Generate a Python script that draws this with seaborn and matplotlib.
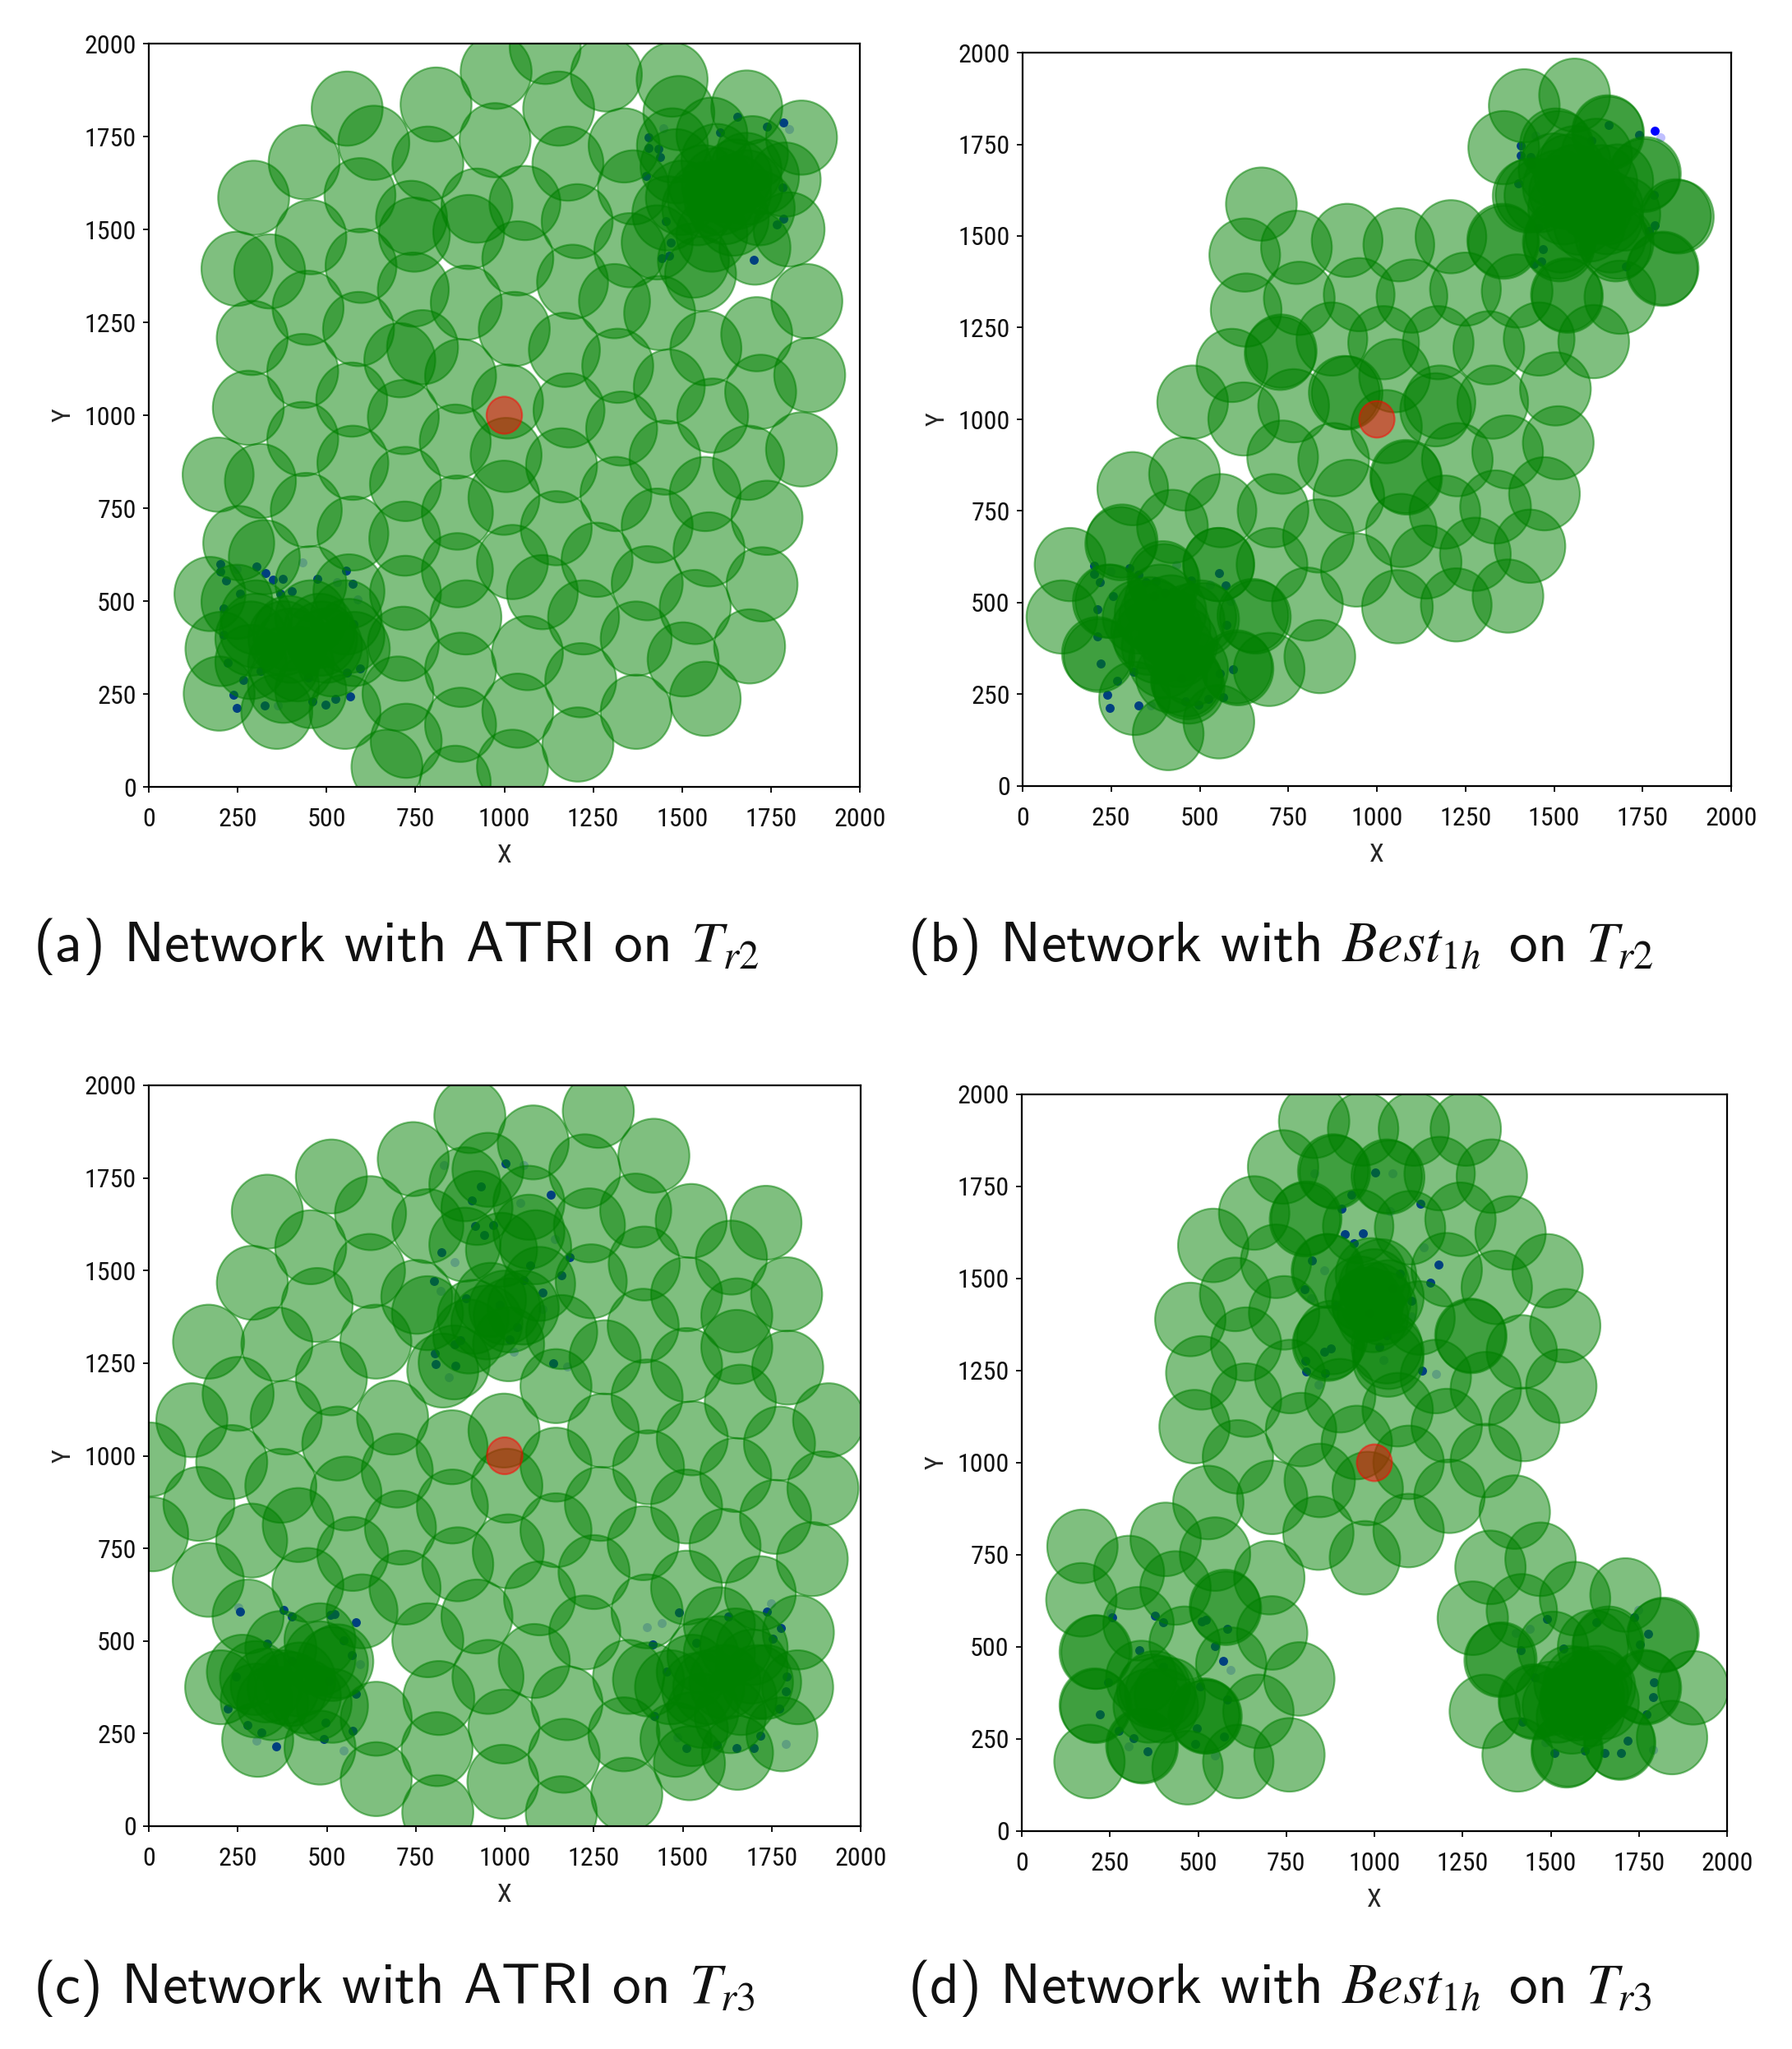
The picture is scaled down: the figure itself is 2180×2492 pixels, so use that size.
import matplotlib
matplotlib.use("Agg")
import matplotlib.pyplot as plt
from matplotlib import font_manager as fm
from matplotlib.patches import Circle
import pandas as pd
import seaborn as sns

# --- Coverage-circle centres (x, y) ----------------------------------------
atri_tr2 = [
 (558,1825),(633,1733),(808,1836),(785,1677),(977,1924),(974,1740),(1115,1991),(1153,1825),(1287,1917),(1472,1903),
 (437,1681),(594,1592),(295,1585),(456,1479),(248,1394),(340,1387),(597,1402),(739,1531),(747,1486),(923,1564),
 (1058,1571),(1179,1677),(1205,1522),(1038,1422),(900,1493),(1363,1613),(1353,1444),(1192,1359),(744,1338),(448,1289),
 (893,1303),(590,1232),(291,1208),(1028,1232),(1310,1307),(1437,1275),(1567,1180),(1532,1416),(1710,1218),(1851,1307),
 (1859,1108),(1836,908),(706,1148),(770,1183),(1169,1176),(1319,1133),(433,1119),(571,1042),(280,1020),(877,1105),
 (1009,1037),(1182,1013),(1464,1077),(1586,999),(1721,1063),(1330,964),(716,995),(433,936),(195,840),(314,823),
 (574,872),(862,929),(1005,893),(1161,865),(1452,886),(1687,872),(1565,788),(722,815),(443,745),(574,682),
 (868,738),(1314,788),(1430,703),(1739,724),(253,656),(325,618),(720,668),(1146,696),(1023,605),(868,583),
 (1261,611),(1576,639),(1402,548),(172,519),(248,498),(563,526),(456,548),(1725,545),(1537,484),(1107,524),
 (716,385),(892,456),(1223,456),(1371,399),(203,371),(578,371),(287,399),(302,456),(394,414),(486,399),
 (456,456),(517,343),(287,336),(379,329),(563,406),(555,456),(1065,360),(877,315),(1690,378),(1503,343),
 (198,251),(360,202),(456,258),(379,272),(552,202),(701,251),(1038,205),(877,167),(1215,287),(1371,202),
 (1565,237),(724,124),(670,54),(862,11),(1023,54),(1207,114),
 (1682,1828),(1491,1813),(1473,1726),(1584,1755),(1836,1747),(1790,1634),(1801,1500),(1460,1543),(1430,1465),(1584,1486),
 (1705,1451),(1717,1557),(1652,1642),(1560,1627),(1498,1585),(1483,1670),(1698,1705),(1606,1585),(1683,1613),(1598,1684),
 (1544,1557),(1644,1529),(1729,1642),(1552,1380),
 (999,778),(722,522),(1337,1726),
 (400,380),(300,420),(500,380),(420,330),(480,420),(380,400),
 (1600,1620),(1560,1580),(1650,1600),(1620,1560),(1680,1660),
]
best_tr2 = [
 (674,1587),(627,1448),(773,1469),(916,1488),(1062,1476),(1209,1498),(631,1298),(781,1330),(950,1340),(1099,1336),
 (1250,1355),(1396,1350),(591,1147),(730,1186),(727,1180),(873,1219),(1019,1209),(1173,1209),(1316,1195),(1458,1219),
 (1612,1212),(1504,1083),(480,1047),(624,1001),(765,1037),(908,1073),(916,1072),(1050,1119),(1178,1047),(1166,1026),
 (1327,1047),(1027,980),(878,890),(734,897),(1081,844),(1084,840),(1227,890),(1369,911),(1512,936),(921,790),
 (1069,697),(1192,747),(1335,761),(1473,797),(707,751),(835,682),(457,851),(311,811),(423,708),(560,751),
 (281,668),(277,661),(134,604),(704,604),(554,604),(553,604),(942,589),(1139,611),(1278,632),(1432,654),
 (804,496),(1058,489),(1224,494),(1370,518),(111,461),(657,461),(650,465),(249,504),(242,504),(839,353),
 (696,318),(604,325),(608,320),(211,361),(216,356),(316,239),(411,143),(554,175),(465,282),(462,289),
 (396,568),(400,560),(373,461),(403,432),(357,403),(503,461),(511,454),(450,389),(388,504),(326,461),(419,475),
 (1416,1855),(1558,1884),(1358,1741),(1504,1748),(1512,1741),(1651,1784),(1654,1780),(1758,1670),(1754,1665),(1435,1612),
 (1427,1609),(1843,1555),(1851,1552),(1808,1412),(1805,1409),(1355,1488),(1358,1483),(1512,1483),(1515,1476),(1674,1476),
 (1681,1483),(1535,1340),(1538,1336),(1686,1333),(1558,1648),(1574,1619),(1604,1591),(1635,1648),(1543,1677),(1512,1634),
 (1620,1720),(1574,1548),(1527,1577),(1651,1577),
 (400,340),(440,370),(480,320),(470,270),(350,420),(430,430),(380,380),(360,470),(470,450),(420,300),
 (1600,1620),(1620,1580),(1560,1700),(1680,1650),(1530,1620),(1600,1530),(1650,1550),(1500,1680),(1700,1560),(1460,1610),(1520,1500),(1660,1500),
]
atri_tr3 = [
 (902,1917),(1080,1846),(1263,1931),(1419,1810),(743,1801),(953,1772),(1225,1768),(888,1733),(1068,1683),(922,1669),
 (513,1754),(623,1655),(333,1659),(455,1563),(291,1467),(620,1499),(784,1620),(1368,1662),(1524,1634),(1734,1629),
 (1637,1535),(1792,1436),(1243,1471),(991,1556),(888,1570),(1087,1563),(1068,1605),(473,1407),(168,1308),(360,1301),
 (638,1308),(753,1429),(783,1385),(960,1421),(911,1375),(1013,1379),(1098,1464),(1052,1400),(899,1322),(1011,1301),
 (1511,1436),(1652,1379),(1652,1294),(1389,1351),(1282,1266),(1511,1245),(1795,1238),(826,1230),(858,1252),(1144,1188),
 (513,1209),(251,1167),(1400,1160),(1662,1146),(1910,1096),(121,1096),(998,1068),(386,1103),(685,1103),(1277,1068),
 (1527,1047),(531,1033),(1772,1033),(233,983),(1144,976),(852,1023),(3,990),(1404,969),(1649,948),(1894,912),
 (371,919),(554,898),(141,870),(853,863),(1269,870),(707,806),(1006,919),(1511,863),(1761,835),(11,788),
 (420,813),(1144,799),(1389,764),(1619,757),(289,771),(573,735),(868,707),(167,665),(1251,686),(1864,721),
 (720,644),(447,651),(1511,644),(1098,615),(599,580),(1718,629),(1400,580),(922,566),(279,566),(784,502),
 (1225,523),(1825,523),(481,502),(1083,446),(639,290),(953,403),(1348,403),(815,346),(1175,332),(1823,375),
 (202,375),(998,269),(1335,248),(810,208),(639,127),(306,233),(481,212),(995,120),(812,38),(1159,35),
 (1343,85),(1519,170),(1779,248),(1654,198),
 (263,417),(302,339),(371,481),(481,453),(516,438),(378,375),(470,332),(516,325),(348,332),(424,396),(531,445),
 (1404,396),(1481,233),(1466,375),(1557,460),(1542,368),(1603,467),(1619,389),(1649,488),(1695,431),(1710,389),
 (1557,311),(1634,297),(1733,389),(1527,262),(1603,545),(1695,481),(1573,375),(1664,346),(1527,417),
 (1010,742),(698,960),(1392,1519),(1238,1622),(1160,1334),(1167,190),
 (330,380),(400,370),(440,350),(300,400),(1000,1400),(950,1360),
]
best_tr3 = [
 (829,1927),(968,1906),(1112,1906),(1259,1906),(741,1803),(883,1792),(888,1789),(1035,1778),(1042,1775),(1333,1778),
 (1185,1785),(659,1678),(803,1660),(807,1664),(954,1642),(1101,1638),(1244,1661),(1386,1624),(543,1590),(721,1547),
 (869,1521),(865,1521),(1019,1507),(1205,1524),(1347,1476),(1491,1521),(605,1457),(478,1389),(744,1407),(1004,1443),
 (981,1429),(996,1400),(1128,1393),(1275,1343),(1272,1346),(1541,1372),(636,1322),(868,1322),(872,1326),(1418,1301),
 (509,1244),(761,1234),(1035,1315),(1039,1279),(1174,1234),(1530,1208),(636,1170),(903,1182),(1316,1201),(490,1098),
 (1066,1144),(792,1090),(950,1055),(1205,1101),(1425,1104),(613,1016),(1316,1006),(1097,1001),(845,952),(529,892),
 (710,906),(1213,909),(981,930),(1398,866),(841,809),(1097,816),(973,742),(408,792),(172,773),(1471,738),
 (548,752),(304,702),(702,688),(436,660),(1329,716),(169,628),(579,605),(576,610),(331,563),(1569,631),
 (1712,641),(1279,578),(1418,598),(710,538),(212,486),(207,486),(462,510),(594,453),(1360,467),(1355,464),
 (1507,496),(1664,510),(1820,534),(1816,531),(787,413),(1904,389),(671,325),(210,339),(207,342),(339,417),
 (377,389),(393,375),(517,315),(524,311),(339,232),(343,229),(192,189),(470,172),(614,189),(759,207),
 (1313,325),(1452,353),(1455,349),(1770,389),(1766,392),(1592,389),(1607,375),(1553,403),(1630,403),(1570,346),
 (1661,503),(1545,218),(1548,221),(1697,239),(1694,242),(1406,207),(1844,254),
 (1000,1480),(1020,1420),(980,1430),(960,1460),(1040,1450),(990,1510),(880,1340),(1040,1300),
 (370,380),(360,340),(420,370),(400,340),(520,310),
 (1580,400),(1600,350),(1620,370),(1640,390),(1570,360),(1610,330),(1650,350),(1560,310),(1620,500),(1500,360),(1520,340),
]

# --- Sensor positions (strong and faint) -----------------------------------
sensors_tr2 = [
 (1785,1788),(1655,1802),(1739,1776),(1406,1747),(1406,1719),(1433,1716),(1437,1694),(1399,1644),(1785,1529),(1767,1514),
 (1468,1465),(1442,1423),(1463,1430),(1702,1418),(1606,1761),(1782,1613),(1454,1522),
 (202,600),(202,579),(218,555),(302,594),(328,576),(348,557),(376,559),(555,581),(574,546),(475,560),(256,519),(371,519),
 (402,526),(210,481),(210,409),(221,333),(314,312),(238,248),(247,212),(327,219),(460,230),(497,222),(525,237),(567,243),
 (595,318),(558,308),(575,439),(267,287),(448,294),
]
faint_tr2 = [(1448,1773),(1800,1770),(248,586),(587,505),(363,219),(433,603),(530,550)]
sensors_tr3 = [
 (1002,1789),(1130,1704),(907,1690),(916,1620),(968,1622),(942,1597),(822,1549),(1072,1514),(801,1471),(891,1426),
 (986,1407),(1106,1440),(1034,1347),(858,1301),(876,1311),(804,1276),(807,1247),(861,1243),(1136,1249),(1159,1488),
 (1182,1537),(1052,1474),(934,1728),(1014,1315),
 (257,580),(378,584),(402,567),(511,570),(523,573),(583,550),(333,492),(570,462),(547,502),(245,403),(222,318),(505,392),
 (582,358),(276,272),(317,253),(357,216),(493,236),(573,257),(496,279),(401,446),
 (1489,577),(1629,566),(1736,580),(1776,535),(1752,506),(1415,491),(1792,403),(1790,364),(1772,318),(1718,245),(1652,211),
 (1511,211),(1596,219),(1420,297),(1700,211),(1455,417),(1537,495),
]
faint_tr3 = [
 (1052,1785),(830,1785),(1045,1683),(858,1523),(820,1446),(1106,1397),(842,1212),(1026,1280),(1175,1240),(1141,1584),
 (251,591),(593,438),(548,205),(302,231),(1400,537),(1440,549),(1749,601),(1790,222),(1485,240),
]

gateway = (1000, 1000)
ticks = [0, 250, 500, 750, 1000, 1250, 1500, 1750, 2000]
captions = [
 r"(a) Network with ATRI on $T_{r2}$",
 r"(b) Network with $Best_{1h}\,$ on $T_{r2}$",
 r"(c) Network with ATRI on $T_{r3}$",
 r"(d) Network with $Best_{1h}\,$ on $T_{r3}$",
]

W, H = 2180, 2492
# left, right, top, bottom in pixels, plus caption x / y
boxes = [
 (181, 1046, 53, 957, 40, 1169),
 (1244, 2106, 64, 956, 1104, 1169),
 (181, 1047, 1320, 2221, 40, 2436),
 (1243, 2101, 1331, 2227, 1104, 2436),
]
panels = [
 (atri_tr2, sensors_tr2, faint_tr2),
 (best_tr2, sensors_tr2, faint_tr2),
 (atri_tr3, sensors_tr3, faint_tr3),
 (best_tr3, sensors_tr3, faint_tr3),
]

sns.set_theme(style="ticks")
names = {f.name for f in fm.fontManager.ttflist}
if "Roboto Condensed" in names:
    tick_family, tick_size = ["Roboto Condensed", "DejaVu Sans"], 23
else:
    tick_family, tick_size = ["Liberation Sans", "DejaVu Sans"], 20
plt.rcParams["font.family"] = tick_family
plt.rcParams["mathtext.fontset"] = "stix"

fig = plt.figure(figsize=(W / 100, H / 100), dpi=100, facecolor="white")

for (l, r, t, b, cx, cy), (cov, strong, faint), cap in zip(boxes, panels, captions):
    ax = fig.add_axes([l / W, 1 - b / H, (r - l) / W, (b - t) / H])
    s_df = pd.DataFrame(strong, columns=["X", "Y"])
    f_df = pd.DataFrame(faint, columns=["X", "Y"])
    sns.scatterplot(data=s_df, x="X", y="Y", color="blue", s=62, linewidth=0, ax=ax, zorder=1)
    sns.scatterplot(data=f_df, x="X", y="Y", color="blue", s=62, linewidth=0, alpha=0.25, ax=ax, zorder=1)
    for cxy in cov:
        ax.add_patch(Circle(cxy, 100, facecolor="green", edgecolor="green", alpha=0.5, lw=1.6, zorder=2))
    ax.add_patch(Circle(gateway, 50, facecolor="red", edgecolor="red", alpha=0.5, lw=1.6, zorder=3))
    ax.set_xlim(0, 2000)
    ax.set_ylim(0, 2000)
    ax.set_xticks(ticks)
    ax.set_yticks(ticks)
    ax.tick_params(axis="y", length=5, width=1.4, labelsize=tick_size, pad=6, colors="#111111")
    ax.tick_params(axis="x", length=5, width=1.4, labelsize=tick_size, pad=13, colors="#111111")
    ax.set_xlabel("X", fontsize=tick_size, labelpad=11)
    ax.set_ylabel("Y", fontsize=tick_size, labelpad=8)
    for sp in ax.spines.values():
        sp.set_linewidth(1.6)
        sp.set_color("black")
    fig.text(cx / W, 1 - cy / H, cap, fontsize=50, family=["cmss10", "DejaVu Sans"], color="#111111",
             ha="left", va="baseline")

fig.savefig("out.png", dpi=100)
